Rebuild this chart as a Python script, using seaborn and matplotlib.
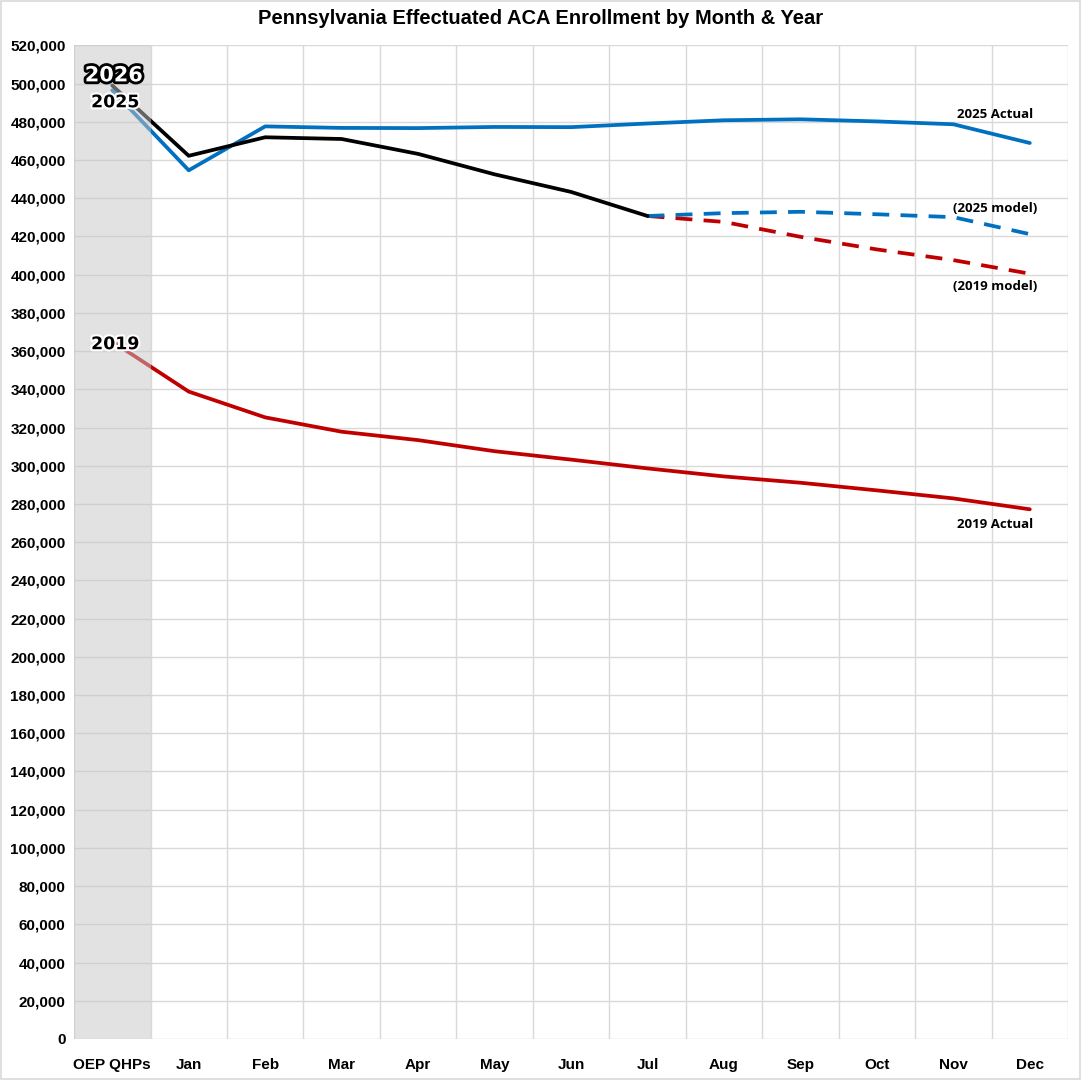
import numpy as np
import pandas as pd
import matplotlib
matplotlib.use("Agg")
import matplotlib.pyplot as plt
import matplotlib.patheffects as pe
from matplotlib.ticker import FuncFormatter, MultipleLocator
import seaborn as sns

# Categories
months = ["OEP QHPs", "Jan", "Feb", "Mar", "Apr", "May", "Jun",
          "Jul", "Aug", "Sep", "Oct", "Nov", "Dec"]

# Series values
actual_2025 = [496500, 454600, 477600, 476800, 476700, 477300, 477200,
               479100, 480800, 481300, 480200, 478700, 468900]
actual_2019 = [365000, 338800, 325300, 317800, 313400, 307600, 303200,
               298600, 294400, 291100, 287100, 282900, 277200]
actual_2026 = [499000, 462200, 471900, 471000, 463200, 452500, 443300, 430700]
model_2025 = [430700, 432200, 432900, 431600, 430100, 421200]
model_2019 = [430700, 427600, 419800, 413200, 407600, 400500]

BLUE = "#0070C0"
RED = "#C00000"

sns.set_theme(style="white")
plt.rcParams["font.family"] = ["Liberation Sans Narrow", "Liberation Sans", "DejaVu Sans"]

fig, ax = plt.subplots(figsize=(10.81, 10.80), dpi=100)
fig.subplots_adjust(left=0.0685, right=0.988, top=0.958, bottom=0.038)

x_all = np.arange(len(months))
x_2026 = x_all[:len(actual_2026)]
x_model = x_all[len(actual_2026) - 1:]

df_2025 = pd.DataFrame({"x": x_all, "y": actual_2025})
df_2019 = pd.DataFrame({"x": x_all, "y": actual_2019})
df_2026 = pd.DataFrame({"x": x_2026, "y": actual_2026})
df_m25 = pd.DataFrame({"x": x_model, "y": model_2025})
df_m19 = pd.DataFrame({"x": x_model, "y": model_2019})

lw = 2.7
sns.lineplot(data=df_2025, x="x", y="y", ax=ax, color=BLUE, linewidth=lw, zorder=2)
sns.lineplot(data=df_2019, x="x", y="y", ax=ax, color=RED, linewidth=lw, zorder=2)
sns.lineplot(data=df_m19, x="x", y="y", ax=ax, color=RED, linewidth=lw, zorder=2,
             dashes=False, linestyle=(0, (4.5, 3)))
sns.lineplot(data=df_m25, x="x", y="y", ax=ax, color=BLUE, linewidth=lw, zorder=2,
             dashes=False, linestyle=(0, (4.5, 3)))
sns.lineplot(data=df_2026, x="x", y="y", ax=ax, color="black", linewidth=lw, zorder=2.5)

# shaded OEP column drawn over the lines
ax.axvspan(-0.5, 0.5, color="#c6c6c6", alpha=0.5, zorder=3, lw=0)

ax.set_xlim(-0.5, len(months) - 0.5)
ax.set_ylim(0, 520000)
ax.yaxis.set_major_locator(MultipleLocator(20000))
ax.yaxis.set_major_formatter(FuncFormatter(lambda v, p: f"{int(v):,}"))
ax.set_xticks(x_all)
ax.set_xticklabels(months)
ax.set_xticks(np.arange(-0.5, len(months), 1), minor=True)
ax.grid(False)
ax.grid(axis="y", which="major", color="#d9d9d9", linewidth=1)
ax.grid(axis="x", which="minor", color="#d9d9d9", linewidth=1)
ax.tick_params(axis="both", which="both", length=0)
ax.tick_params(axis="x", pad=14)
ax.tick_params(axis="y", pad=6)
for lab in ax.get_xticklabels() + ax.get_yticklabels():
    lab.set_fontweight("bold")
    lab.set_fontsize(11)
    lab.set_color("black")
ax.set_xlabel("")
ax.set_ylabel("")
for s in ax.spines.values():
    s.set_visible(False)

fig.suptitle("Pennsylvania Effectuated ACA Enrollment by Month & Year",
             x=0.5, y=0.992, fontsize=14.5, fontweight="bold", color="black")

white_edge = [pe.withStroke(linewidth=3, foreground="white")]
ax.text(0.02, 504300, "2026", ha="center", va="center", fontsize=15, fontweight="bold",
        color="white", family=["DejaVu Sans"], zorder=6,
        path_effects=[pe.withStroke(linewidth=4, foreground="black")])
ax.text(0.04, 490200, "2025", ha="center", va="center", fontsize=12.5, fontweight="bold",
        color="black", family=["DejaVu Sans"], zorder=6, path_effects=white_edge)
ax.text(0.04, 363600, "2019", ha="center", va="center", fontsize=12.5, fontweight="bold",
        color="black", family=["DejaVu Sans"], zorder=6, path_effects=white_edge)

lab_kw = dict(ha="center", va="center", fontsize=9.5, fontweight="bold",
              color="black", family=["Open Sans", "DejaVu Sans"], zorder=6)
ax.text(11.55, 483900, "2025 Actual", **lab_kw)
ax.text(11.55, 434700, "(2025 model)", **lab_kw)
ax.text(11.55, 393900, "(2019 model)", **lab_kw)
ax.text(11.55, 269400, "2019 Actual", **lab_kw)

fig.patches.append(plt.Rectangle((0.001, 0.001), 0.998, 0.998, transform=fig.transFigure,
                                 fill=False, edgecolor="#d9d9d9", linewidth=1.2))

fig.savefig("out.png", dpi=100)
